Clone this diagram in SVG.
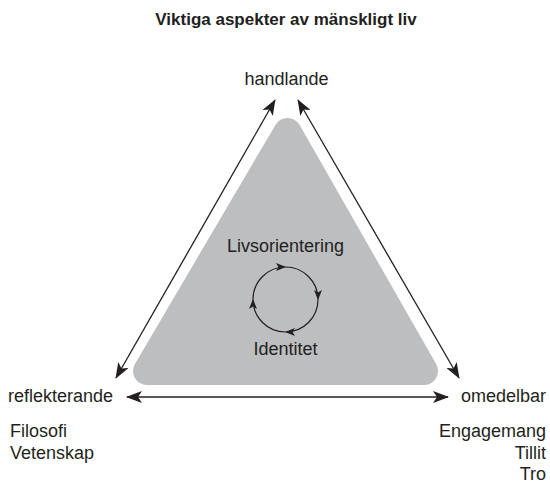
<svg xmlns="http://www.w3.org/2000/svg" width="550" height="484" viewBox="0 0 550 484">
<defs>
<style>
text{font-family:"Liberation Sans",Arial,sans-serif;fill:#231f20;font-size:18px}
.title{font-weight:bold;font-size:17px}
.line{stroke:#231f20;stroke-width:1.3;fill:none}
.cyc{stroke:#231f20;stroke-width:1.2;fill:none}
</style>
<marker id="ah" viewBox="0 0 16 12" refX="15" refY="6" markerWidth="16" markerHeight="12" markerUnits="userSpaceOnUse" orient="auto-start-reverse">
<path d="M0,0 L16,6 L0,12 L4,6 z" fill="#231f20"/>
</marker>
<marker id="sh" viewBox="0 0 10 8" refX="9.5" refY="4" markerWidth="10" markerHeight="8" markerUnits="userSpaceOnUse" orient="auto">
<path d="M0,0 L10,4 L0,8 L2.5,4 z" fill="#231f20"/>
</marker>
</defs>
<rect width="550" height="484" fill="#ffffff"/>
<text class="title" x="286" y="25" text-anchor="middle">Viktiga aspekter av mänskligt liv</text>
<g id="triangle">
<polygon points="287.5,132 147,371 424,371" fill="#bcbec0" stroke="#bcbec0" stroke-width="28" stroke-linejoin="round"/>
</g>
<g id="connectors">
<line class="line" x1="275" y1="100" x2="116" y2="378" marker-start="url(#ah)" marker-end="url(#ah)"/>
<line class="line" x1="298" y1="100" x2="459" y2="378" marker-start="url(#ah)" marker-end="url(#ah)"/>
<line class="line" x1="127" y1="397" x2="448" y2="397" marker-start="url(#ah)" marker-end="url(#ah)"/>
</g>
<g id="cycle">
<path class="cyc" d="M253,299.5 A32.5,32.5 0 0 1 285.5,267" marker-end="url(#sh)"/>
<path class="cyc" d="M285.5,267 A32.5,32.5 0 0 1 318,299.5" marker-end="url(#sh)"/>
<path class="cyc" d="M318,299.5 A32.5,32.5 0 0 1 285.5,332" marker-end="url(#sh)"/>
<path class="cyc" d="M285.5,332 A32.5,32.5 0 0 1 253,299.5" marker-end="url(#sh)"/>
</g>
<g id="handlande"><text x="286.5" y="85" text-anchor="middle">handlande</text></g>
<g id="livsorientering"><text x="285.5" y="252" text-anchor="middle">Livsorientering</text></g>
<g id="identitet"><text x="285.5" y="355" text-anchor="middle">Identitet</text></g>
<g id="reflekterande">
<text x="8" y="402">reflekterande</text>
<text x="10" y="437">Filosofi</text>
<text x="10" y="459">Vetenskap</text>
</g>
<g id="omedelbar">
<text x="546" y="402" text-anchor="end">omedelbar</text>
<text x="546" y="437" text-anchor="end">Engagemang</text>
<text x="546" y="459" text-anchor="end">Tillit</text>
<text x="546" y="480" text-anchor="end">Tro</text>
</g>
</svg>
